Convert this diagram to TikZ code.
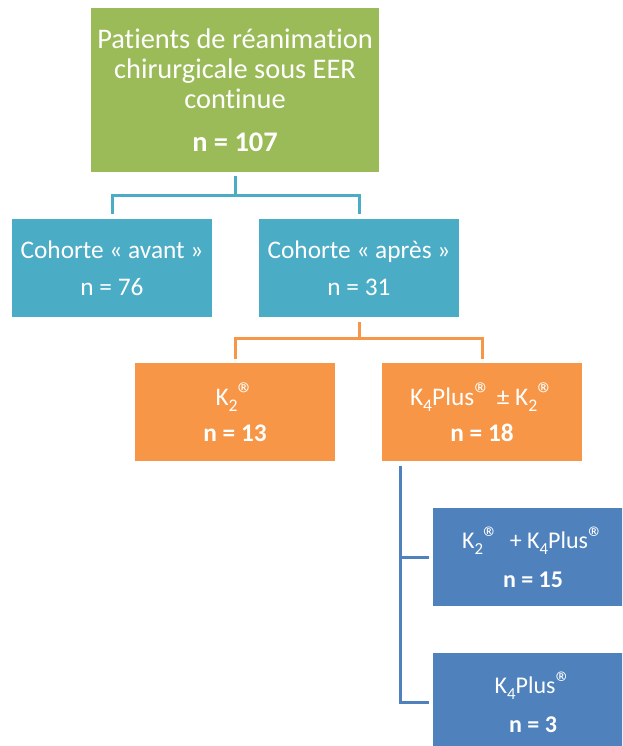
\documentclass[tikz,border=0pt]{standalone}
\usepackage{fontspec}
\setmainfont{Carlito}[Ligatures=NoCommon]
\usetikzlibrary{calc}
\definecolor{cgreen}{HTML}{9BBB59}
\definecolor{cteal}{HTML}{4BACC6}
\definecolor{corange}{HTML}{F79646}
\definecolor{cblue}{HTML}{4F81BD}
\tikzset{
  box/.style={rectangle, draw=none, text=white, align=center, inner sep=0pt},
  wide/.style={minimum width=216pt, minimum height=123pt},
  mid/.style={minimum width=150pt, minimum height=73.5pt},
  conn/.style={line width=2.25pt, line join=miter}
}
\newcommand{\regd}{{\fontsize{1.3em}{1em}\selectfont ®}}
\newcommand{\subsc}[1]{\raisebox{-0.24em}{\fontsize{0.7em}{0.7em}\selectfont #1}}
\begin{document}
\begin{tikzpicture}[x=0.75pt, y=-0.75pt]
\useasboundingbox (0,0) rectangle (622,746);
\clip (0,0) rectangle (622,746);
\node[box, wide, fill=cgreen, font=\fontsize{21.3}{22.5}\selectfont] (top) at (235,90)
  {Patients de réanimation\\chirurgicale sous EER\\continue\\[10pt]\textbf{n = 107}};
\node[box, mid, fill=cteal, font=\fontsize{19}{27.5}\selectfont] (avant) at (112,268)
  {Cohorte « avant »\\n = 76};
\node[box, mid, fill=cteal, font=\fontsize{19}{27.5}\selectfont] (apres) at (359,268)
  {Cohorte « après »\\n = 31};
\node[box, mid, fill=corange, font=\fontsize{19}{27}\selectfont] (k2) at (235,412)
  {K\subsc{2}\regd\\\textbf{n = 13}};
\node[box, mid, fill=corange, font=\fontsize{19}{27}\selectfont] (k4) at (482,412)
  {K\subsc{4}Plus\regd{} ± K\subsc{2}\regd\\\textbf{n = 18}};
\node[box, mid, fill=cblue, font=\fontsize{18}{29}\selectfont] (b1) at (533,557)
  {K\subsc{2}\regd{}\ \ + K\subsc{4}Plus\regd\\\textbf{n = 15}};
\node[box, mid, fill=cblue, font=\fontsize{18}{29}\selectfont] (b2) at (533,702)
  {K\subsc{4}Plus\regd\\\textbf{n = 3}};
% teal connector
\draw[conn, cteal] ($(top.south)+(0,4)$) -- ($(top.south)+(0,24)$) coordinate (gj);
\draw[conn, cteal] ($(avant.north)+(0,-5)$) |- ($(apres.north)+(0,-23)$) -- ($(apres.north)+(0,-5)$);
% orange connector
\draw[conn, corange] ($(apres.south)+(0,5)$) -- ($(apres.south)+(0,22)$) coordinate (oj);
\draw[conn, corange] ($(k2.north)+(0,-4)$) |- ($(k4.north)+(0,-24)$) -- ($(k4.north)+(0,-4)$);
% blue connector
\draw[conn, cblue] ($(k4.south west)+(19,5)$) coordinate (bt) |- ($(b2.west)+(-4,0)$);
\draw[conn, cblue] (bt |- b1.west) -- ($(b1.west)+(-4,0)$);
\end{tikzpicture}
\end{document}
